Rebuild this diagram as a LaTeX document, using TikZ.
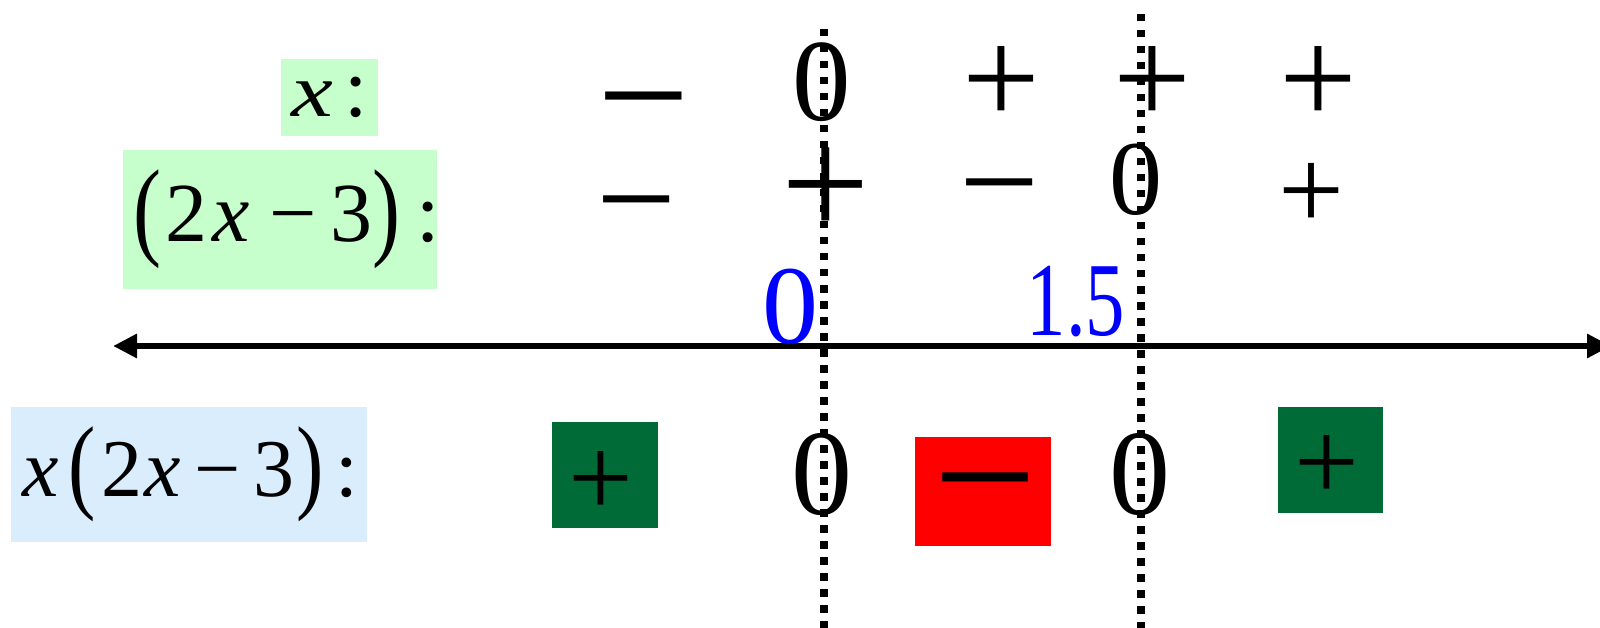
\documentclass[tikz,border=0pt]{standalone}
\usepackage{fontspec}
\setmainfont{Liberation Serif}
\usepackage{graphicx}
\usetikzlibrary{arrows.meta}
\definecolor{lgreen}{RGB}{198,255,204}
\definecolor{lblue}{RGB}{217,237,253}
\definecolor{dgreen}{RGB}{0,107,54}
\definecolor{pblue}{RGB}{0,0,255}
\definecolor{pred}{RGB}{255,0,0}
\tikzset{
  fs/.style={font=\fontsize{#1pt}{#1pt}\selectfont},
  sym/.style={inner sep=0pt, outer sep=0pt, anchor=center},
  lbl/.style={inner sep=0pt, outer sep=0pt, anchor=base west},
  dotline/.style={line width=7.6pt, dash pattern=on 7.5pt off 8.5pt},
  axisline/.style={line width=6pt, {Triangle[length=24pt,width=23pt]}-{Triangle[length=24pt,width=23pt]}},
  fillbox/.style={inner sep=0pt, outer sep=0pt, anchor=center},
}
\newcommand{\tallparen}[2]{\raisebox{#2}{\scalebox{1}[#1]{(}}}
\newcommand{\tallcparen}[2]{\raisebox{#2}{\scalebox{1}[#1]{)}}}
\begin{document}
\begin{tikzpicture}[x=1pt,y=-1pt]
\useasboundingbox (0,0) rectangle (1600,628);
% number line
\coordinate (L) at (113,346);
\coordinate (R) at (1611,346);
\draw[axisline] (L) -- (R);
% label boxes
\node[fillbox, fill=lgreen, minimum width=97pt, minimum height=77pt] (bx) at (329.5,97.5) {};
\node[fillbox, fill=lgreen, minimum width=314pt, minimum height=139pt] (bq) at (280,219.5) {};
\node[fillbox, fill=lblue, minimum width=356pt, minimum height=135pt] (bp) at (189,474.5) {};
\node[lbl, fs=84] (lx) at (291,117) {\scalebox{1.12}[0.9]{\textit{x}}\hspace{12pt}:};
\node[lbl, fs=84] (lq) at (133,242)
  {\tallparen{1.3}{-4pt}\hspace{5pt}2\hspace{5pt}\textit{x}\hspace{19pt}−\hspace{14pt}3\tallcparen{1.3}{-4pt}\hspace{16pt}:};
\node[lbl, fs=82] (lp) at (22,496)
  {\textit{x}\hspace{10pt}\tallparen{1.28}{-3.5pt}\hspace{6pt}2\hspace{2pt}\textit{x}\hspace{13pt}−\hspace{13pt}3\hspace{2pt}\tallcparen{1.28}{-3.5pt}\hspace{12pt}:};
% row 1: x
\node[sym, fs=164] (a1) at (644,121) {−};
\node[sym, fs=117] (a2) at (822,82) {0};
\node[sym, fs=138] (a3) at (1001,85.3) {+};
\node[sym, fs=138] (a4) at (1152,85.3) {+};
\node[sym, fs=138] (a5) at (1318,85.3) {+};
% row 2: (2x-3)
\node[sym, fs=142] (b1) at (637,221) {−};
\node[sym, fs=157] (b2) at (826,192) {+};
\node[sym, fs=142] (b3) at (1000,204) {−};
\node[sym, fs=106] (b4) at (1136,180) {0};
\node[sym, fs=117] (b5) at (1311,196.4) {+};
% blue values
\node[sym, fs=112, text=pblue] (v0) at (790,307) {0};
\node[sym, fs=105, text=pblue] (v15) at (1076,302) {\scalebox{0.75}[1]{1.5}};
% product row
\node[fillbox, fill=dgreen, minimum width=106pt, minimum height=106pt] (g1) at (605,475) {};
\node[sym, fs=115] (p1) at (601,484.3) {+};
\node[sym, fs=122] (p2) at (822,475) {0};
\node[fillbox, fill=pred, minimum width=136pt, minimum height=109pt] (r1) at (983,491.5) {};
\node[sym, fs=184] (p3) at (985,506) {−};
\node[sym, fs=122] (p4) at (1140,475) {0};
\node[fillbox, fill=dgreen, minimum width=105pt, minimum height=106pt] (g2) at (1330.5,460) {};
\node[sym, fs=115] (p5) at (1327,468.3) {+};
% dotted verticals
\coordinate (d1t) at (824,29);
\coordinate (d1b) at (824,640);
\coordinate (d2t) at (1141,14);
\coordinate (d2b) at (1141,640);
\draw[dotline] (d1t) -- (d1b);
\draw[dotline] (d2t) -- (d2b);
\end{tikzpicture}
\end{document}
